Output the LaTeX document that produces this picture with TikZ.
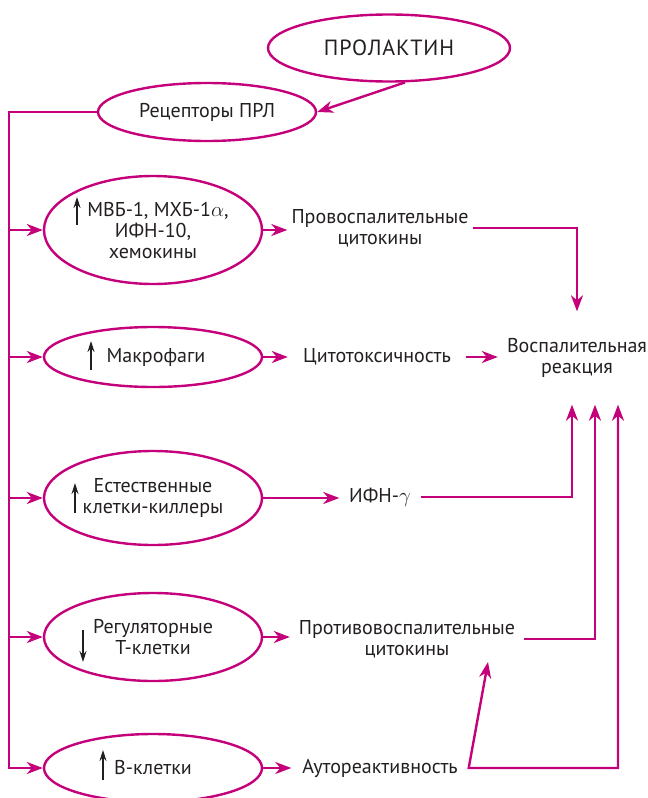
\documentclass[tikz,border=0pt]{standalone}
\usepackage{fontspec}
\setmainfont{PT Sans}
\usepackage{tikz}
\usetikzlibrary{arrows.meta, shapes.geometric}
\definecolor{rub}{RGB}{196,0,122}
\definecolor{ink}{RGB}{35,31,32}
\tikzstyle{oval}=[ellipse, draw=rub, line width=2.4pt, inner sep=0pt, align=center, minimum width=218pt]
\tikzstyle{plain}=[inner sep=4pt, align=center]
\tikzstyle{feed}=[draw=rub, line width=2.4pt, -{Stealth[length=16pt,width=12pt,inset=5pt]}]
\tikzstyle{feedboth}=[draw=rub, line width=2.4pt, {Stealth[length=16pt,width=12pt,inset=5pt]}-{Stealth[length=16pt,width=12pt,inset=5pt]}]
\tikzstyle{smallarr}=[draw=ink, line width=1.3pt, -{Stealth[length=11pt,width=7pt]}]

\begin{document}
\begin{tikzpicture}[x=1pt, y=-1pt, font=\fontsize{20}{21}\selectfont, text=ink]
  \useasboundingbox (0,0) rectangle (648,798);
  \coordinate (bus) at (9,0);

  \node[oval, minimum height=67pt, minimum width=242pt] (prl) at (389,48) {\fontsize{22}{24}\selectfont\addfontfeature{LetterSpace=4}ПРОЛАКТИН};
  \node[oval, minimum height=58pt] (rec) at (207,112) {Рецепторы ПРЛ};

  \node[oval, minimum height=108pt] (e1) at (153,230) {\hspace{10pt}МВБ-1, МХБ-1$\alpha$,\\ИФН-10,\\хемокины};
  \node[oval, minimum height=60pt] (e2) at (153,357) {\hspace{6pt}Макрофаги};
  \node[oval, minimum height=94pt] (e3) at (153,498) {Естественные\\клетки-киллеры};
  \node[oval, minimum height=88pt] (e4) at (153,637) {Регуляторные\\Т-клетки};
  \node[oval, minimum height=68pt] (e5) at (153,768) {В-клетки};

  \node[plain, text width=177pt] (t1) at (380,228) {Провоспалительные\\цитокины};
  \node[plain, text width=170pt] (t2) at (377,357) {Цитотоксичность};
  \node[plain, text width=150pt, minimum height=93pt] (t3) at (577,358) {Воспалительная\\реакция};
  \node[plain, text width=73pt] (t4) at (380,497) {ИФН-$\gamma$};
  \node[plain, text width=226pt] (t5) at (407,639) {Противовоспалительные\\цитокины};
  \node[plain, text width=169pt] (t6) at (380,768) {Аутореактивность};

  % up / down marks
  \draw[smallarr] ([shift={(-76,-5)}]e1.center) -- ++(0,-28);
  \draw[smallarr] ([shift={(-62,13)}]e2.center) -- ++(0,-29);
  \draw[smallarr] ([shift={(-78,15)}]e3.center) -- ++(0,-30);
  \draw[smallarr] ([shift={(-70,-7)}]e4.center) -- ++(0,32);
  \draw[smallarr] ([shift={(-50,12)}]e5.center) -- ++(0,-30);

  \draw[feed] (prl.-65) -- (rec.east);

  % bus on the left
  \draw[feed] (rec.west) -| (e5.west -| bus) -- (e5.west);
  \foreach \e in {e1,e2,e3,e4}
    \draw[feed] (\e.west -| bus) -- (\e.west);

  \draw[feed] (e1.east) -- (e1.east -| t1.west);
  \draw[feed] (e2.east) -- (e2.east -| t2.west);
  \draw[feed] (e3.east) -- (e3.east -| t4.west);
  \draw[feed] (e4.east) -- (e4.east -| t5.west);
  \draw[feed] (e5.east) -- (e5.east -| t6.west);

  \draw[feed] (t1.east) -| (t3.north);
  \draw[feed] (t2.east) -- (t2.east -| t3.west);
  \draw[feed] (t4.east) -| ([xshift=-5pt]t3.south);
  \draw[feed] (t5.east) -| ([xshift=18pt]t3.south);
  \draw[feedboth] ([xshift=81pt]t5.south) -- (t6.east) -| ([xshift=41pt]t3.south);
\end{tikzpicture}
\end{document}
